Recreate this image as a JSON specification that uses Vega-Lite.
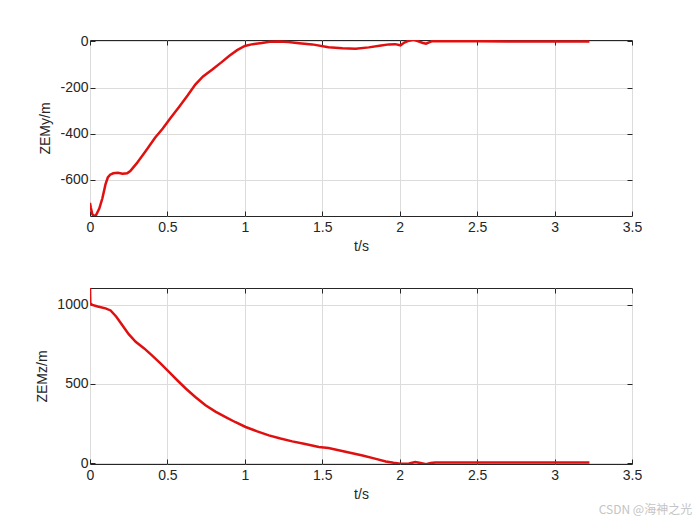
{
  "$schema": "https://vega.github.io/schema/vega-lite/v6.json",
  "background": "white",
  "padding": {"left": 35, "top": 33, "right": 5, "bottom": 0},
  "spacing": 33,
  "title": {"text": "CSDN @海神之光", "orient": "bottom", "anchor": "end", "fontSize": 12, "color": "#c4c4c4", "font": "Noto Sans CJK SC", "fontWeight": "normal", "offset": 3, "dx": 50},
  "config": {
    "font": "Liberation Sans",
    "view": {"stroke": "#262626", "strokeWidth": 1},
    "axis": {
      "labelFont": "Liberation Sans",
      "titleFont": "Liberation Sans",
      "labelFontSize": 14,
      "titleFontSize": 14,
      "titleFontWeight": "normal",
      "labelColor": "#262626",
      "titleColor": "#262626",
      "domain": false,
      "tickColor": "#262626",
      "gridColor": "#dcdcdc",
      "gridWidth": 1,
      "tickSize": -5,
      "labelPadding": 9,
      "labelFlush": false,
      "labelExpr": "'' + datum.value"
    }
  },
  "datasets": {
    "zemy": [
      {"t": 0, "v": -700}, {"t": 0.005, "v": -720}, {"t": 0.015, "v": -750}, {"t": 0.026, "v": -757},
      {"t": 0.04, "v": -752}, {"t": 0.06, "v": -725}, {"t": 0.08, "v": -680}, {"t": 0.1, "v": -620},
      {"t": 0.115, "v": -590}, {"t": 0.13, "v": -578}, {"t": 0.15, "v": -572}, {"t": 0.18, "v": -570},
      {"t": 0.21, "v": -574}, {"t": 0.24, "v": -572}, {"t": 0.26, "v": -562}, {"t": 0.3, "v": -530},
      {"t": 0.36, "v": -475}, {"t": 0.42, "v": -418}, {"t": 0.47, "v": -378}, {"t": 0.52, "v": -332},
      {"t": 0.575, "v": -284}, {"t": 0.63, "v": -235}, {"t": 0.68, "v": -187}, {"t": 0.73, "v": -152},
      {"t": 0.79, "v": -122}, {"t": 0.85, "v": -90}, {"t": 0.9, "v": -62}, {"t": 0.95, "v": -38},
      {"t": 1.0, "v": -20}, {"t": 1.05, "v": -12}, {"t": 1.11, "v": -7}, {"t": 1.16, "v": -2},
      {"t": 1.22, "v": 0}, {"t": 1.28, "v": -3}, {"t": 1.35, "v": -8}, {"t": 1.435, "v": -13},
      {"t": 1.54, "v": -25}, {"t": 1.63, "v": -30}, {"t": 1.715, "v": -32}, {"t": 1.8, "v": -26},
      {"t": 1.88, "v": -18}, {"t": 1.93, "v": -13}, {"t": 1.97, "v": -12}, {"t": 2.005, "v": -17},
      {"t": 2.03, "v": -5}, {"t": 2.06, "v": 3}, {"t": 2.09, "v": 7}, {"t": 2.12, "v": 0},
      {"t": 2.15, "v": -7}, {"t": 2.17, "v": -10}, {"t": 2.19, "v": -4}, {"t": 2.21, "v": 1},
      {"t": 2.3, "v": 2}, {"t": 2.5, "v": 1}, {"t": 2.7, "v": 0}, {"t": 2.9, "v": 0},
      {"t": 3.1, "v": 0}, {"t": 3.225, "v": 0}
    ],
    "zemz": [
      {"t": 0, "v": 1107}, {"t": 0.002, "v": 1010}, {"t": 0.015, "v": 1000}, {"t": 0.05, "v": 990},
      {"t": 0.1, "v": 978}, {"t": 0.133, "v": 965}, {"t": 0.17, "v": 925}, {"t": 0.21, "v": 870},
      {"t": 0.25, "v": 815}, {"t": 0.295, "v": 767}, {"t": 0.35, "v": 725}, {"t": 0.4, "v": 681},
      {"t": 0.455, "v": 630}, {"t": 0.51, "v": 576}, {"t": 0.565, "v": 522}, {"t": 0.62, "v": 470},
      {"t": 0.68, "v": 418}, {"t": 0.746, "v": 365}, {"t": 0.81, "v": 325}, {"t": 0.876, "v": 291},
      {"t": 0.94, "v": 258}, {"t": 1.005, "v": 228}, {"t": 1.08, "v": 200}, {"t": 1.155, "v": 175},
      {"t": 1.23, "v": 155}, {"t": 1.306, "v": 137}, {"t": 1.39, "v": 120}, {"t": 1.478, "v": 101},
      {"t": 1.54, "v": 95}, {"t": 1.65, "v": 72}, {"t": 1.76, "v": 48}, {"t": 1.84, "v": 28},
      {"t": 1.91, "v": 10}, {"t": 1.96, "v": 2}, {"t": 2.005, "v": -4}, {"t": 2.06, "v": -3},
      {"t": 2.1, "v": 6}, {"t": 2.135, "v": 0}, {"t": 2.17, "v": -8}, {"t": 2.2, "v": 0},
      {"t": 2.23, "v": 3}, {"t": 2.4, "v": 3}, {"t": 2.6, "v": 3}, {"t": 2.8, "v": 3},
      {"t": 3.0, "v": 3}, {"t": 3.225, "v": 3}
    ]
  },
  "vconcat": [
    {
      "width": 542,
      "height": 176,
      "data": {"name": "zemy"},
      "layer": [
        {
          "mark": {"type": "line", "color": "#e01010", "strokeWidth": 2.5, "clip": true},
          "encoding": {
            "x": {"field": "t", "type": "quantitative", "title": "t/s",
                  "scale": {"domain": [0, 3.5], "nice": false},
                  "axis": {"values": [0, 0.5, 1, 1.5, 2, 2.5, 3, 3.5], "titlePadding": 5}},
            "y": {"field": "v", "type": "quantitative", "title": "ZEMy/m",
                  "scale": {"domain": [-757, 6], "nice": false, "zero": false},
                  "axis": {"values": [-600, -400, -200, 0], "labelPadding": 7, "titlePadding": 7}}
          }
        },
        {
          "mark": {"type": "line", "opacity": 0},
          "encoding": {
            "x": {"field": "t", "type": "quantitative",
                  "axis": {"orient": "top", "values": [0, 0.5, 1, 1.5, 2, 2.5, 3, 3.5], "labels": false, "grid": false, "title": null}},
            "y": {"field": "v", "type": "quantitative",
                  "axis": {"orient": "right", "values": [-600, -400, -200, 0], "labels": false, "grid": false, "title": null}}
          }
        }
      ],
      "resolve": {"axis": {"x": "independent", "y": "independent"}}
    },
    {
      "width": 542,
      "height": 176,
      "data": {"name": "zemz"},
      "layer": [
        {
          "mark": {"type": "line", "color": "#e01010", "strokeWidth": 2.5, "clip": true},
          "encoding": {
            "x": {"field": "t", "type": "quantitative", "title": "t/s",
                  "scale": {"domain": [0, 3.5], "nice": false},
                  "axis": {"values": [0, 0.5, 1, 1.5, 2, 2.5, 3, 3.5], "titlePadding": 5}},
            "y": {"field": "v", "type": "quantitative", "title": "ZEMz/m",
                  "scale": {"domain": [-6, 1107], "nice": false, "zero": false},
                  "axis": {"values": [0, 500, 1000], "labelPadding": 7, "titlePadding": 7}}
          }
        },
        {
          "mark": {"type": "line", "opacity": 0},
          "encoding": {
            "x": {"field": "t", "type": "quantitative",
                  "axis": {"orient": "top", "values": [0, 0.5, 1, 1.5, 2, 2.5, 3, 3.5], "labels": false, "grid": false, "title": null}},
            "y": {"field": "v", "type": "quantitative",
                  "axis": {"orient": "right", "values": [0, 500, 1000], "labels": false, "grid": false, "title": null}}
          }
        }
      ],
      "resolve": {"axis": {"x": "independent", "y": "independent"}}
    }
  ]
}
